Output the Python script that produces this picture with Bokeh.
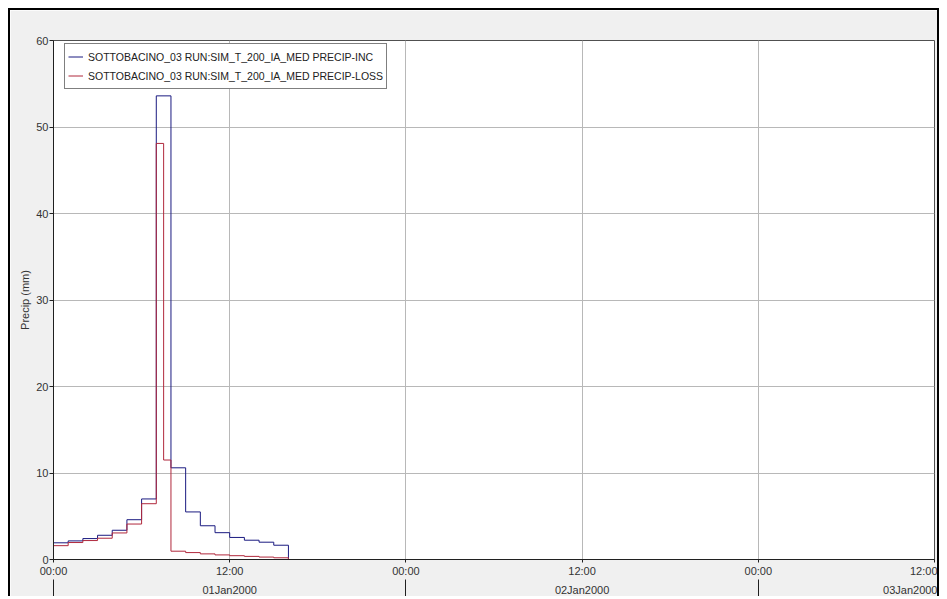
from bokeh.plotting import figure
from bokeh.models import Range1d, FixedTicker, LinearAxis, Legend, LegendItem
from bokeh.embed import file_html
from bokeh.resources import INLINE

# ---- data (hours since 01Jan2000 00:00, precipitation in mm) ----
inc_hours = [0, 1, 2, 3, 4, 5, 6, 7, 8, 9, 10, 11, 12, 13, 14, 15, 16, 60]
inc_precip = [1.93, 2.15, 2.42, 2.80, 3.38, 4.60, 7.00, 53.6, 10.6, 5.5,
              3.9, 3.1, 2.55, 2.23, 2.0, 1.65, 0.0, 0.0]

loss_hours = [0, 1, 2, 3, 4, 5, 6, 7, 7.5, 8, 9, 10, 11, 12, 13, 14, 15, 16, 60]
loss_precip = [1.60, 1.96, 2.19, 2.46, 3.07, 4.10, 6.45, 48.1, 11.5, 0.96,
               0.80, 0.65, 0.53, 0.44, 0.36, 0.28, 0.20, 0.0, 0.0]

series_names = ["SOTTOBACINO_03 RUN:SIM_T_200_IA_MED PRECIP-INC",
                "SOTTOBACINO_03 RUN:SIM_T_200_IA_MED PRECIP-LOSS"]

time_ticks = [0, 12, 24, 36, 48, 60]
time_labels = ["00:00", "12:00", "00:00", "12:00", "00:00", "12:00"]
date_ticks = [12, 36, 58.5]
date_labels = ["01Jan2000", "02Jan2000", "03Jan2000"]
day_bounds = [0, 24, 48]
y_ticks = [0, 10, 20, 30, 40, 50, 60]

FONT = "Liberation Sans"
TXT = "#333333"

W, H = 931, 588
TOP, BOTTOM, LEFT, RIGHT = 30, 38, 43, 7
FRAME_H = H - TOP - BOTTOM
LEG_H = 3 * 2 + 19 * 2

p = figure(width=W, height=H, x_range=Range1d(0, 60), y_range=Range1d(0, 60),
           output_backend="svg", toolbar_location=None,
           min_border_left=LEFT, min_border_right=RIGHT,
           min_border_top=TOP, min_border_bottom=BOTTOM,
           background_fill_color="white", border_fill_color="#f0f0f0",
           outline_line_color="#505050", outline_line_width=1)
p.styles = {"margin-left": "8px", "margin-top": "8px",
            "border-left": "2px solid #000", "border-top": "2px solid #000",
            "border-right": "2px solid #000"}

r_inc = p.step(inc_hours, inc_precip, mode="after", line_color="#1a1a80", line_width=1)
r_loss = p.step(loss_hours, loss_precip, mode="after", line_color="#b0283c", line_width=1)

# grids
p.xgrid[0].ticker = FixedTicker(ticks=time_ticks)
p.ygrid[0].ticker = FixedTicker(ticks=y_ticks)
for g in (p.xgrid[0], p.ygrid[0]):
    g.grid_line_color = "#b8b8b8"
    g.grid_line_width = 1

# time axis
xa = p.xaxis[0]
xa.ticker = FixedTicker(ticks=time_ticks)
xa.major_label_overrides = dict(zip(time_ticks, time_labels))
xa.major_tick_out = 3
xa.major_tick_in = 0
xa.minor_tick_out = 0
xa.minor_tick_in = 0
xa.major_label_standoff = 2
xa.major_label_text_font = FONT
xa.major_label_text_font_size = "11px"
xa.major_label_text_color = TXT
xa.axis_line_color = "#202020"
xa.major_tick_line_color = "#202020"

# date axis
da = LinearAxis(ticker=FixedTicker(ticks=date_ticks, minor_ticks=day_bounds))
da.major_label_overrides = dict(zip(date_ticks, date_labels))
da.axis_line_color = None
da.major_tick_line_color = None
da.major_tick_out = 0
da.major_tick_in = 0
da.minor_tick_out = 20
da.minor_tick_in = 0
da.minor_tick_line_color = "#202020"
da.major_label_standoff = -16
da.major_label_text_font = FONT
da.major_label_text_font_size = "11px"
da.major_label_text_color = TXT
p.add_layout(da, "below")

# y axis
ya = p.yaxis[0]
ya.ticker = FixedTicker(ticks=y_ticks)
ya.axis_label = "Precip (mm)"
ya.axis_label_text_font = FONT
ya.axis_label_text_font_size = "11px"
ya.axis_label_text_font_style = "normal"
ya.axis_label_text_color = TXT
ya.axis_label_standoff = 2
ya.major_tick_out = 4
ya.major_tick_in = 0
ya.minor_tick_out = 0
ya.minor_tick_in = 0
ya.major_label_standoff = 1
ya.major_label_text_font = FONT
ya.major_label_text_font_size = "11px"
ya.major_label_text_color = TXT
ya.axis_line_color = "#202020"
ya.major_tick_line_color = "#202020"

legend = Legend(items=[LegendItem(label=series_names[0], renderers=[r_inc]),
                       LegendItem(label=series_names[1], renderers=[r_loss])],
                location=(11, FRAME_H - 6 - LEG_H), orientation="vertical",
                border_line_color="black", border_line_width=1,
                background_fill_color="white", background_fill_alpha=1,
                padding=3, spacing=0, margin=0,
                glyph_width=15, glyph_height=19, label_height=19, label_standoff=5,
                label_text_font=FONT, label_text_font_size="10.5px", label_text_color="#222222")
p.add_layout(legend)

open("out.html", "w").write(file_html(p, INLINE))
